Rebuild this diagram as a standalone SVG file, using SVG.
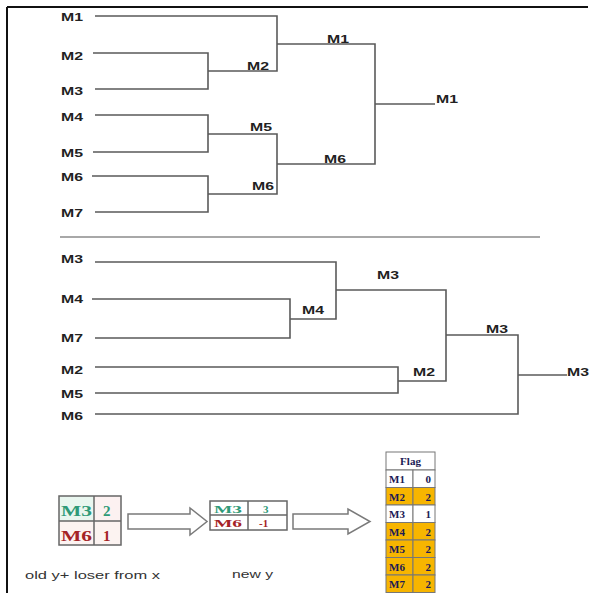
<svg xmlns="http://www.w3.org/2000/svg" width="590" height="593" viewBox="0 0 590 593">
<style>
.lbl{font-family:"Liberation Sans",Arial,sans-serif;font-weight:bold;font-size:11.5px;fill:#222}
.ln{fill:none;stroke:#5a5a5a;stroke-width:1.6}
.cap{font-family:"Liberation Sans",Arial,sans-serif;font-size:11.5px;fill:#333}
.box{fill:none;stroke:#666;stroke-width:1.5}
.ser{font-family:"Liberation Serif","Times New Roman",serif;font-weight:bold}
.g{fill:#2f9a78}
.r{fill:#a52326}
.arr{fill:#fff;stroke:#7a7a7a;stroke-width:1.5}
.ft{font-family:"Liberation Serif","Times New Roman",serif;font-weight:bold;font-size:11px;fill:#1b1b55}
.yc{fill:#f7b500;stroke:#777;stroke-width:1}
.wc{fill:#fff;stroke:#777;stroke-width:1}
</style>
<rect width="590" height="593" fill="#fff"/>
<g id="frame">
<line x1="7" y1="7" x2="588" y2="7" stroke="#111" stroke-width="2"/>
<line x1="7" y1="7" x2="7" y2="593" stroke="#111" stroke-width="2"/>
<line x1="60" y1="237" x2="540" y2="237" stroke="#a8a8a8" stroke-width="2"/>
</g>
<g id="connectors">
<!-- top tree -->
<path class="ln" d="M95 16H277V71H208"/>
<path class="ln" d="M93 53H208V89H95"/>
<path class="ln" d="M277 44H375V164H277"/>
<path class="ln" d="M95 115H208V152H93"/>
<path class="ln" d="M208 134H277V194H208"/>
<path class="ln" d="M92 176H208V212H95"/>
<path class="ln" d="M375 104H435"/>
<!-- bottom tree -->
<path class="ln" d="M95 262H336V319H290"/>
<path class="ln" d="M92 299H290V338H95"/>
<path class="ln" d="M336 290H446V381H398"/>
<path class="ln" d="M95 367H398V393H95"/>
<path class="ln" d="M446 335H518V414H95"/>
<path class="ln" d="M518 375H567"/>
<!-- block arrows -->
<path class="arr" d="M128 514H190V508L207 521.5L190 535V529H128Z"/>
<path class="arr" d="M293 514H348V509L370 521.5L348 534V529H293Z"/>
</g>
<g id="top-leaves">
<text class="lbl" x="61" y="21" textLength="22" lengthAdjust="spacingAndGlyphs">M1</text>
<text class="lbl" x="61" y="60" textLength="22" lengthAdjust="spacingAndGlyphs">M2</text>
<text class="lbl" x="61" y="95" textLength="22" lengthAdjust="spacingAndGlyphs">M3</text>
<text class="lbl" x="61" y="121" textLength="22" lengthAdjust="spacingAndGlyphs">M4</text>
<text class="lbl" x="61" y="157" textLength="22" lengthAdjust="spacingAndGlyphs">M5</text>
<text class="lbl" x="61" y="181" textLength="22" lengthAdjust="spacingAndGlyphs">M6</text>
<text class="lbl" x="61" y="217" textLength="22" lengthAdjust="spacingAndGlyphs">M7</text>
</g>
<g id="top-winners">
<text class="lbl" x="247" y="70" textLength="22" lengthAdjust="spacingAndGlyphs">M2</text>
<text class="lbl" x="250" y="131" textLength="22" lengthAdjust="spacingAndGlyphs">M5</text>
<text class="lbl" x="252" y="190" textLength="22" lengthAdjust="spacingAndGlyphs">M6</text>
<text class="lbl" x="327" y="43" textLength="22" lengthAdjust="spacingAndGlyphs">M1</text>
<text class="lbl" x="324" y="163" textLength="22" lengthAdjust="spacingAndGlyphs">M6</text>
<text class="lbl" x="436" y="103" textLength="22" lengthAdjust="spacingAndGlyphs">M1</text>
</g>
<g id="bottom-leaves">
<text class="lbl" x="61" y="263" textLength="22" lengthAdjust="spacingAndGlyphs">M3</text>
<text class="lbl" x="61" y="303" textLength="22" lengthAdjust="spacingAndGlyphs">M4</text>
<text class="lbl" x="61" y="342" textLength="22" lengthAdjust="spacingAndGlyphs">M7</text>
<text class="lbl" x="61" y="374" textLength="22" lengthAdjust="spacingAndGlyphs">M2</text>
<text class="lbl" x="61" y="398" textLength="22" lengthAdjust="spacingAndGlyphs">M5</text>
<text class="lbl" x="61" y="420" textLength="22" lengthAdjust="spacingAndGlyphs">M6</text>
</g>
<g id="bottom-winners">
<text class="lbl" x="302" y="314" textLength="22" lengthAdjust="spacingAndGlyphs">M4</text>
<text class="lbl" x="377" y="279" textLength="22" lengthAdjust="spacingAndGlyphs">M3</text>
<text class="lbl" x="413" y="376" textLength="22" lengthAdjust="spacingAndGlyphs">M2</text>
<text class="lbl" x="486" y="333" textLength="22" lengthAdjust="spacingAndGlyphs">M3</text>
<text class="lbl" x="567" y="376" textLength="22" lengthAdjust="spacingAndGlyphs">M3</text>
</g>
<g id="old-y">
<rect x="59" y="496" width="35" height="25" fill="#e9f6ef"/>
<rect x="94" y="496" width="27" height="25" fill="#fcf1f1"/>
<rect x="59" y="521" width="62" height="24" fill="#fcf3f1"/>
<rect class="box" x="59" y="496" width="62" height="49"/>
<line class="box" x1="94" y1="496" x2="94" y2="545"/>
<line class="box" x1="59" y1="521" x2="121" y2="521"/>
<text class="ser g" x="61" y="516" font-size="15" textLength="31" lengthAdjust="spacingAndGlyphs">M3</text>
<text class="ser g" x="103" y="516" font-size="15">2</text>
<text class="ser r" x="61" y="541" font-size="15" textLength="31" lengthAdjust="spacingAndGlyphs">M6</text>
<text class="ser r" x="103" y="541" font-size="15">1</text>
<text class="cap" x="25" y="579" textLength="135" lengthAdjust="spacingAndGlyphs">old y+ loser from x</text>
</g>
<g id="new-y">
<rect class="box" x="210" y="501" width="77" height="29"/>
<line class="box" x1="248" y1="501" x2="248" y2="530"/>
<line class="box" x1="210" y1="515" x2="287" y2="515"/>
<text class="ser g" x="214" y="513" font-size="11" textLength="28" lengthAdjust="spacingAndGlyphs">M3</text>
<text class="ser g" x="263" y="513" font-size="11">3</text>
<text class="ser r" x="214" y="527" font-size="11" textLength="28" lengthAdjust="spacingAndGlyphs">M6</text>
<text class="ser r" x="259" y="527" font-size="11">-1</text>
<text class="cap" x="232" y="578" textLength="41" lengthAdjust="spacingAndGlyphs">new y</text>
</g>
<g id="flag-table">
<rect class="wc" x="386" y="452" width="49" height="18"/>
<text class="ft" x="410.5" y="465" text-anchor="middle" fill="#111">Flag</text>
<rect class="wc" x="386" y="470" width="27" height="17.5"/><rect class="wc" x="413" y="470" width="22" height="17.5"/>
<rect class="yc" x="386" y="487.5" width="27" height="17.5"/><rect class="yc" x="413" y="487.5" width="22" height="17.5"/>
<rect class="wc" x="386" y="505" width="27" height="17.5"/><rect class="wc" x="413" y="505" width="22" height="17.5"/>
<rect class="yc" x="386" y="522.5" width="27" height="17.5"/><rect class="yc" x="413" y="522.5" width="22" height="17.5"/>
<rect class="yc" x="386" y="540" width="27" height="17.5"/><rect class="yc" x="413" y="540" width="22" height="17.5"/>
<rect class="yc" x="386" y="557.5" width="27" height="17.5"/><rect class="yc" x="413" y="557.5" width="22" height="17.5"/>
<rect class="yc" x="386" y="575" width="27" height="17.5"/><rect class="yc" x="413" y="575" width="22" height="17.5"/>
<text class="ft" x="389" y="483">M1</text><text class="ft" x="431" y="483" text-anchor="end" fill="#4a3f9a">0</text>
<text class="ft" x="389" y="500.5">M2</text><text class="ft" x="431" y="500.5" text-anchor="end">2</text>
<text class="ft" x="389" y="518">M3</text><text class="ft" x="431" y="518" text-anchor="end">1</text>
<text class="ft" x="389" y="535.5">M4</text><text class="ft" x="431" y="535.5" text-anchor="end">2</text>
<text class="ft" x="389" y="553">M5</text><text class="ft" x="431" y="553" text-anchor="end">2</text>
<text class="ft" x="389" y="570.5">M6</text><text class="ft" x="431" y="570.5" text-anchor="end">2</text>
<text class="ft" x="389" y="588">M7</text><text class="ft" x="431" y="588" text-anchor="end">2</text>
</g>
</svg>
